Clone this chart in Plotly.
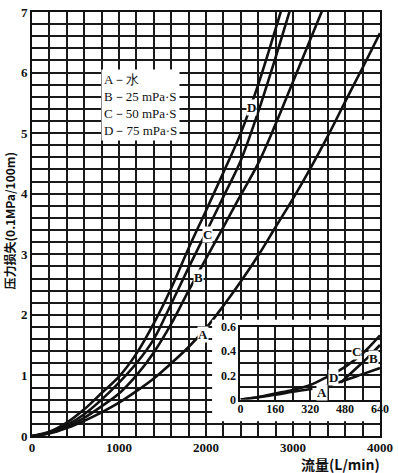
import plotly.graph_objects as go

# ---------------- data ----------------
# main chart: flow (L/min) vs pressure loss (0.1 MPa/100 m)
A_flow = [0, 200, 400, 600, 800, 1000, 1200, 1400, 1600, 1800, 2000, 2200, 2400, 2600,
          2800, 3000, 3200, 3400, 3600, 3800, 4000]
A_loss = [0, 0.04, 0.13, 0.25, 0.39, 0.55, 0.74, 0.95, 1.2, 1.47, 1.78, 2.15, 2.55, 2.98,
          3.45, 3.92, 4.42, 4.95, 5.52, 6.08, 6.65]
B_flow = [0, 200, 400, 600, 800, 1000, 1200, 1400, 1600, 1800, 2000, 2200, 2400, 2600,
          2800, 3000, 3200, 3400]
B_loss = [0, 0.05, 0.15, 0.3, 0.49, 0.7, 1.0, 1.38, 1.85, 2.4, 2.93, 3.45, 3.98, 4.5,
          5.15, 5.85, 6.55, 7.25]
C_flow = [0, 200, 400, 600, 800, 1000, 1200, 1400, 1600, 1800, 2000, 2200, 2400, 2600,
          2800, 3000]
C_loss = [0, 0.06, 0.18, 0.36, 0.6, 0.88, 1.2, 1.6, 2.18, 2.78, 3.36, 3.95, 4.55, 5.35,
          6.25, 7.2]
D_flow = [0, 200, 400, 600, 800, 1000, 1200, 1400, 1600, 1800, 2000, 2200, 2400, 2600,
          2800, 2900]
D_loss = [0, 0.07, 0.22, 0.44, 0.71, 0.98, 1.36, 1.86, 2.44, 3.1, 3.72, 4.35, 5.0, 5.8,
          6.72, 7.2]

# inset: low-flow region
inA_flow = [0, 80, 160, 240, 330]
inA_loss = [0, 0.02, 0.04, 0.065, 0.09]
inC_flow = [0, 80, 160, 240, 320, 400, 480, 560, 640]
inC_loss = [0, 0.02, 0.05, 0.08, 0.12, 0.19, 0.27, 0.38, 0.53]
inB_flow = [460, 520, 580, 640]
inB_loss = [0.14, 0.24, 0.34, 0.45]
inD_flow = [390, 480, 560, 640]
inD_loss = [0.11, 0.16, 0.21, 0.26]

x_ticks = [0, 1000, 2000, 3000, 4000]
y_ticks = [0, 1, 2, 3, 4, 5, 6, 7]
in_x_ticks = [0, 160, 320, 480, 640]
in_y_ticks = [0, 0.2, 0.4, 0.6]
in_y_text = ["0", "0.2", "0.4", "0.6"]

legend_lines = ["A－水", "B－25 mPa·S", "C－50 mPa·S", "D－75 mPa·S"]

# ---------------- figure ----------------
INK = "#111111"
GRID = "#1a1a1a"
SERIF = "Liberation Serif"
CJK = "Noto Sans CJK SC"

fig = go.Figure()
line_style = dict(color=INK, width=2.6)
for fx, fy in [(A_flow, A_loss), (B_flow, B_loss), (C_flow, C_loss), (D_flow, D_loss)]:
    fig.add_trace(go.Scatter(x=fx, y=fy, mode="lines", line=dict(line_style, shape="spline"),
                             xaxis="x", yaxis="y", showlegend=False, hoverinfo="skip"))

# backing subplot for the white inset panel
fig.add_trace(go.Scatter(x=[], y=[], xaxis="x2", yaxis="y2", showlegend=False, hoverinfo="skip"))

for fx, fy in [(inA_flow, inA_loss), (inC_flow, inC_loss), (inB_flow, inB_loss), (inD_flow, inD_loss)]:
    fig.add_trace(go.Scatter(x=fx, y=fy, mode="lines", line=dict(line_style, shape="spline"),
                             xaxis="x3", yaxis="y3", showlegend=False, hoverinfo="skip"))

tickfont = dict(family=SERIF, size=13, color=INK, weight="bold")
in_tickfont = dict(family=SERIF, size=12, color=INK, weight="bold")

fig.update_layout(
    width=398, height=473,
    margin=dict(l=32, r=7, t=5, b=37),
    paper_bgcolor="white", plot_bgcolor="white",
    xaxis=dict(domain=[0, 1], range=[0, 4000], tickvals=x_ticks, ticks="",
               showgrid=True, gridcolor=GRID, gridwidth=1.6, zeroline=False,
               showline=True, linecolor=INK, linewidth=2, mirror=True,
               minor=dict(dtick=200, tick0=0, showgrid=True, gridcolor=GRID, gridwidth=1.6),
               tickfont=tickfont, anchor="y", ticklabeloverflow="allow",
               ticklabelstandoff=-2),
    yaxis=dict(domain=[0, 1], range=[0, 7], tickvals=y_ticks, ticks="",
               showgrid=True, gridcolor=GRID, gridwidth=1.6, zeroline=False,
               showline=True, linecolor=INK, linewidth=2, mirror=True,
               minor=dict(dtick=0.2, tick0=0, showgrid=True, gridcolor=GRID, gridwidth=1.6),
               tickfont=tickfont, anchor="x", ticklabeloverflow="allow"),
    xaxis2=dict(domain=[0.518, 1.0], range=[0, 1], visible=False, anchor="y2"),
    yaxis2=dict(domain=[0.035, 0.274], range=[0, 1], visible=False, anchor="x2"),
    xaxis3=dict(domain=[0.599, 1.0], range=[0, 640], tickvals=in_x_ticks, ticks="",
                showgrid=True, gridcolor=GRID, gridwidth=1.6, zeroline=False,
                showline=True, linecolor=INK, linewidth=2, mirror=True,
                minor=dict(dtick=80, tick0=0, showgrid=True, gridcolor=GRID, gridwidth=1.6),
                tickfont=in_tickfont, anchor="y3", ticklabeloverflow="allow",
                ticklabelstandoff=-3),
    yaxis3=dict(domain=[0.0858, 0.2575], range=[0, 0.6], tickvals=in_y_ticks, ticktext=in_y_text,
                ticks="", showgrid=True, gridcolor=GRID, gridwidth=1.6, zeroline=False,
                showline=True, linecolor=INK, linewidth=2, mirror=True,
                minor=dict(dtick=0.1, tick0=0, showgrid=True, gridcolor=GRID, gridwidth=1.6),
                tickfont=in_tickfont, anchor="x3", ticklabeloverflow="allow"),
    shapes=[dict(type="rect", xref="x2", yref="y2", x0=0, x1=1, y0=0, y1=1,
                 fillcolor="white", line=dict(width=0), layer="below")],
)

annotations = []
# axis titles
annotations.append(dict(text="压力损失(0.1MPa/100m)", xref="paper", yref="paper",
                        x=-0.066, y=0.506, xanchor="center", yanchor="middle",
                        textangle=-90, showarrow=False,
                        font=dict(family=CJK, size=12, color=INK, weight="bold")))
annotations.append(dict(text="流量(L/min)", xref="paper", yref="paper",
                        x=1.005, y=-0.066, xanchor="right", yanchor="middle", showarrow=False,
                        font=dict(family=CJK, size=14, color=INK, weight="bold")))
# legend block
annotations.append(dict(text="<br>".join(legend_lines), xref="paper", yref="paper",
                        x=0.197, y=0.866, xanchor="left", yanchor="top", align="left",
                        showarrow=False, bgcolor="white", borderpad=2,
                        font=dict(family=SERIF, size=13, color=INK)))
# curve labels (main)
for t, xv, yv in [("D", 2518, 5.42), ("C", 2017, 3.32), ("B", 1916, 2.61), ("A", 1960, 1.68)]:
    annotations.append(dict(text=t, x=xv, y=yv, xref="x", yref="y", showarrow=False,
                            bgcolor="white", borderpad=0,
                            font=dict(family=SERIF, size=13, color=INK, weight="bold")))
# curve labels (inset)
for t, xv, yv in [("A", 372, 0.06), ("D", 427, 0.18), ("C", 530, 0.40), ("B", 610, 0.34)]:
    annotations.append(dict(text=t, x=xv, y=yv, xref="x3", yref="y3", showarrow=False,
                            bgcolor="white", borderpad=0,
                            font=dict(family=SERIF, size=13, color=INK, weight="bold")))
fig.update_layout(annotations=annotations)

fig.write_html("out.html", config={"displayModeBar": False},
               post_script="document.body.style.margin='0px';")
